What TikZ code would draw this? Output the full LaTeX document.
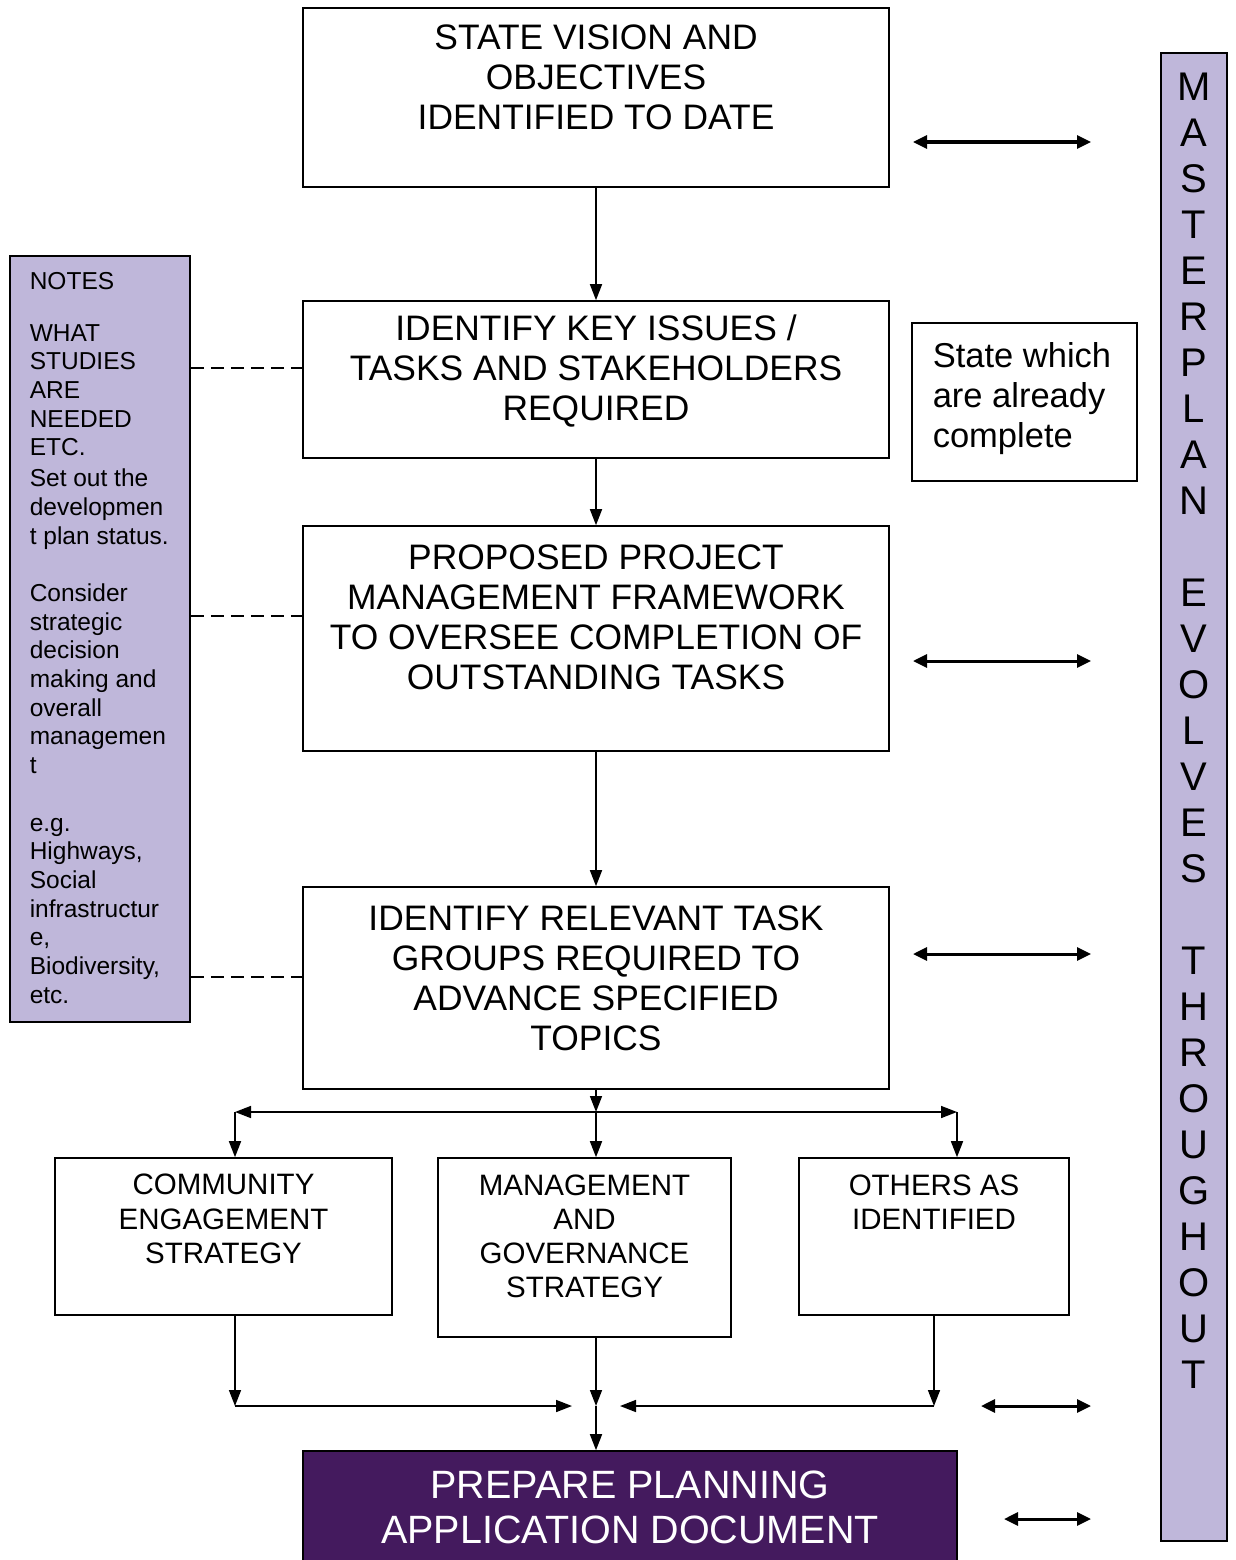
\documentclass[tikz,border=0pt]{standalone}
\usepackage{fontspec}
\setmainfont{Liberation Sans}
\usetikzlibrary{arrows.meta}

\definecolor{notefill}{RGB}{191,183,218}
\definecolor{docfill}{RGB}{68,26,94}

\tikzset{every picture/.style={line width=1.6pt}}
\tikzset{
  box/.style={draw, inner sep=0pt},
  bigtext/.style={align=center, inner sep=0pt, font=\fontsize{35.4}{40}\selectfont},
  smalltext/.style={align=center, inner sep=0pt, font=\fontsize{29.5}{34.2}\selectfont},
  flow/.style={-{Triangle[length=16pt,width=12pt]}},
  splitflow/.style={{Triangle[length=16pt,width=12pt]}-{Triangle[length=16pt,width=12pt]}},
  twoway/.style={line width=3pt, {Triangle[length=14pt,width=13pt]}-{Triangle[length=14pt,width=13pt]}},
  notelink/.style={dash pattern=on 13pt off 7pt}
}

\begin{document}
\begin{tikzpicture}[x=1pt,y=-1pt]
		\useasboundingbox (0,0) rectangle (1235,1560);

		% main column
		\node[box, minimum width=586pt, minimum height=179pt] (vision) at (596,97.5) {};
		\node[bigtext] (visiontext) at (596,77) {STATE VISION AND\\OBJECTIVES\\IDENTIFIED TO DATE};
		\node[box, minimum width=586pt, minimum height=157pt] (issues) at (596,379.5) {};
		\node[bigtext] (issuestext) at (596,371) {IDENTIFY KEY ISSUES /\\TASKS AND STAKEHOLDERS\\REQUIRED};
		\node[box, minimum width=586pt, minimum height=225pt] (framework) at (596,638.5) {};
		\node[bigtext] (frameworktext) at (596,617) {PROPOSED PROJECT\\MANAGEMENT FRAMEWORK\\TO OVERSEE COMPLETION OF\\OUTSTANDING TASKS};
		\node[box, minimum width=586pt, minimum height=202pt] (groups) at (596,988) {};
		\node[bigtext] (groupstext) at (596,978) {IDENTIFY RELEVANT TASK\\GROUPS REQUIRED TO\\ADVANCE SPECIFIED\\TOPICS};

		% task groups
		\node[box, minimum width=337pt, minimum height=157pt] (community) at (223.5,1236.5) {};
		\node[smalltext] (communitytext) at (223.5,1219) {COMMUNITY\\ENGAGEMENT\\STRATEGY};
		\node[box, minimum width=293pt, minimum height=179pt] (governance) at (584.5,1247.5) {};
		\node[smalltext] (governancetext) at (584.5,1236.5) {MANAGEMENT\\AND\\GOVERNANCE\\STRATEGY};
		\node[box, minimum width=270pt, minimum height=157pt] (others) at (934,1236.5) {};
		\node[smalltext] (otherstext) at (934,1202) {OTHERS AS\\IDENTIFIED};

		% final document
		\node[box, fill=docfill, minimum width=654pt, minimum height=130pt] (prepare) at (630,1516) {};
		\node[align=center, inner sep=0pt, text=white, font=\fontsize{39.5}{45}\selectfont] (preparetext) at (630,1507.5) {PREPARE PLANNING\\APPLICATION DOCUMENT};

		% side boxes
		\node[box, fill=notefill, minimum width=180pt, minimum height=766pt] (notes) at (100,639) {};
		\node[anchor=north west, align=left, inner sep=0pt, font=\fontsize{24.5}{28.7}\selectfont] (notestext) at (29,271.2) {NOTES\\[23.3pt]WHAT\\STUDIES\\ARE\\NEEDED\\ETC.\\[2pt]Set out the\\developmen\\t plan status.\\[28.7pt]Consider\\strategic\\decision\\making and\\overall\\managemen\\t\\[28.7pt]e.g.\\Highways,\\Social\\infrastructur\\e,\\Biodiversity,\\etc.};
		\node[box, minimum width=225pt, minimum height=158pt] (complete) at (1024.5,402) {};
		\node[anchor=north west, align=left, inner sep=0pt, font=\fontsize{34.5}{40}\selectfont] (completetext) at (932,342) {State which\\are already\\complete};
		\node[box, fill=notefill, minimum width=66pt, minimum height=1488pt] (master) at (1194,797) {};
		\node[anchor=north, align=center, inner sep=0pt, font=\fontsize{40}{46}\selectfont] (mastertext) at (1194,71.7) {M\\A\\S\\T\\E\\R\\P\\L\\A\\N\\[46pt]E\\V\\O\\L\\V\\E\\S\\[46pt]T\\H\\R\\O\\U\\G\\H\\O\\U\\T};

		% connectors
		\coordinate (split) at (596,1112);
		\coordinate (splitL) at (235,1112);
		\coordinate (splitR) at (957,1112);
		\coordinate (join) at (596,1406);
		\coordinate (joinL) at (235,1406);
		\coordinate (joinR) at (934,1406);
		\coordinate (gapL) at (572,1406);
		\coordinate (gapR) at (620,1406);

		\draw[flow] (vision) -- (issues);
		\draw[flow] (issues) -- (framework);
		\draw[flow] (framework) -- (groups);
		\draw[flow] (groups) -- (split);
		\draw[splitflow] (splitL) -- (splitR);
		\draw[flow] (splitL) -- (splitL |- community.north);
		\draw[flow] (split) -- (split |- governance.north);
		\draw[flow] (splitR) -- (splitR |- others.north);

		\draw[flow] (joinL |- community.south) -- (joinL);
		\draw[flow] (joinL) -- (gapL);
		\draw[flow] (join |- governance.south) -- (join);
		\draw[flow] (join) -- (join |- prepare.north);
		\draw[flow] (joinR |- others.south) -- (joinR);
		\draw[flow] (joinR) -- (gapR);

		% links to the notes
		\draw[notelink] (notes.east |- 0,368) -- (issues.west |- 0,368);
		\draw[notelink] (notes.east |- 0,616) -- (framework.west |- 0,616);
		\draw[notelink] (notes.east |- 0,977) -- (groups.west |- 0,977);

		% links to the masterplan
		\draw[twoway] (913,142) -- (1091,142);
		\draw[twoway] (913,661) -- (1091,661);
		\draw[twoway] (913,954) -- (1091,954);
		\draw[twoway] (981,1406) -- (1091,1406);
		\draw[twoway] (1004,1519) -- (1091,1519);

\end{tikzpicture}
\end{document}
